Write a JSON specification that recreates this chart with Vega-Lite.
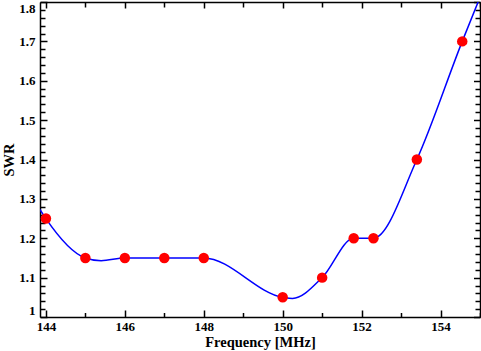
{
  "$schema": "https://vega.github.io/schema/vega-lite/v6.json",
  "width": 440,
  "height": 315,
  "autosize": {"type": "none"},
  "padding": {"left": 40, "top": 2, "right": 1, "bottom": 34},
  "config": {
    "view": {"stroke": null},
    "axis": {
      "grid": false,
      "domainColor": "black",
      "domainWidth": 1.5,
      "tickColor": "black",
      "tickWidth": 1.5,
      "labelFont": "Liberation Serif",
      "labelFontWeight": "bold",
      "labelFontSize": 13,
      "labelColor": "black",
      "titleFont": "Liberation Serif",
      "titleFontWeight": "bold",
      "titleFontSize": 14.5,
      "titleColor": "black"
    }
  },
  "datasets": {
    "points": [
      {"freq": 144, "swr": 1.25},
      {"freq": 145, "swr": 1.15},
      {"freq": 146, "swr": 1.15},
      {"freq": 147, "swr": 1.15},
      {"freq": 148, "swr": 1.15},
      {"freq": 150, "swr": 1.05},
      {"freq": 151, "swr": 1.1},
      {"freq": 151.8, "swr": 1.2},
      {"freq": 152.3, "swr": 1.2},
      {"freq": 153.4, "swr": 1.4},
      {"freq": 154.55, "swr": 1.7}
    ],
    "curve": [
      {"freq": 143.85, "swr": 1.273},
      {"freq": 144, "swr": 1.25},
      {"freq": 145, "swr": 1.15},
      {"freq": 145.4, "swr": 1.143},
      {"freq": 146, "swr": 1.15},
      {"freq": 147, "swr": 1.15},
      {"freq": 148, "swr": 1.15},
      {"freq": 150, "swr": 1.05},
      {"freq": 150.25, "swr": 1.047},
      {"freq": 151, "swr": 1.1},
      {"freq": 151.8, "swr": 1.2},
      {"freq": 152.3, "swr": 1.2},
      {"freq": 153.4, "swr": 1.4},
      {"freq": 154.55, "swr": 1.7},
      {"freq": 155, "swr": 1.812}
    ]
  },
  "resolve": {"axis": {"x": "independent", "y": "independent"}},
  "layer": [
    {
      "data": {"name": "curve"},
      "mark": {"type": "line", "interpolate": "monotone", "color": "#0000ff", "strokeWidth": 1.5, "clip": true},
      "encoding": {
        "x": {"field": "freq", "type": "quantitative",
          "scale": {"domain": [143.85, 155], "nice": false, "zero": false},
          "axis": {"orient": "bottom", "values": [144, 146, 148, 150, 152, 154], "tickSize": -7, "labelPadding": 10, "labelFlush": false, "title": "Frequency [MHz]", "titlePadding": 2}},
        "y": {"field": "swr", "type": "quantitative",
          "scale": {"domain": [1, 1.8], "nice": false, "zero": false},
          "axis": {"orient": "left", "values": [1, 1.1, 1.2, 1.3, 1.4, 1.5, 1.6, 1.7, 1.8], "format": "~g", "tickSize": -7, "labelPadding": 12, "labelFlush": true, "title": "SWR", "titlePadding": 2}}
      }
    },
    {
      "data": {"name": "points"},
      "mark": {"type": "point", "filled": true, "color": "#ff0000", "opacity": 1, "size": 110},
      "encoding": {
        "x": {"field": "freq", "type": "quantitative",
          "axis": {"orient": "bottom", "values": [145, 147, 149, 151, 153, 155], "tickSize": -4.5, "labels": false, "domain": false, "title": null}},
        "y": {"field": "swr", "type": "quantitative",
          "axis": {"orient": "left", "values": [1.02, 1.04, 1.06, 1.08, 1.12, 1.14, 1.16, 1.18, 1.22, 1.24, 1.26, 1.28, 1.32, 1.34, 1.36, 1.38, 1.42, 1.44, 1.46, 1.48, 1.52, 1.54, 1.56, 1.58, 1.62, 1.64, 1.66, 1.68, 1.72, 1.74, 1.76, 1.78], "tickSize": -5, "labels": false, "domain": false, "title": null}}
      }
    },
    {
      "data": {"name": "points"},
      "mark": {"type": "point", "opacity": 0},
      "encoding": {
        "x": {"field": "freq", "type": "quantitative",
          "axis": {"orient": "top", "values": [144, 146, 148, 150, 152, 154], "tickSize": -6, "labels": false, "title": null}},
        "y": {"field": "swr", "type": "quantitative",
          "axis": {"orient": "right", "values": [1, 1.1, 1.2, 1.3, 1.4, 1.5, 1.6, 1.7, 1.8], "tickSize": -6.5, "labels": false, "title": null}}
      }
    },
    {
      "data": {"name": "points"},
      "mark": {"type": "point", "opacity": 0},
      "encoding": {
        "x": {"field": "freq", "type": "quantitative",
          "axis": {"orient": "top", "values": [145, 147, 149, 151, 153, 155], "tickSize": -5, "labels": false, "domain": false, "title": null}},
        "y": {"field": "swr", "type": "quantitative",
          "axis": {"orient": "right", "values": [1.02, 1.04, 1.06, 1.08, 1.12, 1.14, 1.16, 1.18, 1.22, 1.24, 1.26, 1.28, 1.32, 1.34, 1.36, 1.38, 1.42, 1.44, 1.46, 1.48, 1.52, 1.54, 1.56, 1.58, 1.62, 1.64, 1.66, 1.68, 1.72, 1.74, 1.76, 1.78], "tickSize": -5, "labels": false, "domain": false, "title": null}}
      }
    }
  ]
}
